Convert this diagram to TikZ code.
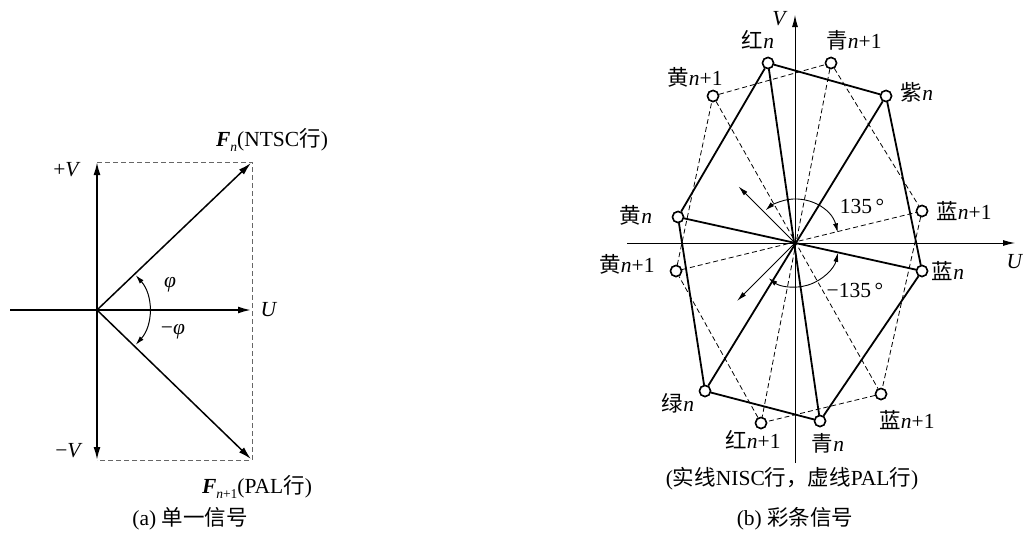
\documentclass[tikz,border=0pt]{standalone}
\usepackage{fontspec}
\setmainfont{Liberation Serif}
\newfontfamily\cjk{Noto Sans CJK SC}
\usetikzlibrary{arrows.meta}
\newcommand{\zh}[1]{{\cjk #1}}
\newcommand{\nn}{\textit{n}}
\newcommand{\mysub}[1]{\raisebox{-4.5pt}{\fontsize{13.5}{13.5}\selectfont #1}}
\tikzset{
  lbl/.style={inner sep=0pt, anchor=center},
  thickln/.style={line width=1.8pt, draw=black},
  thinln/.style={line width=0.7pt, draw=black},
  dashln/.style={line width=0.8pt, dash pattern=on 5pt off 3pt},
  grayd/.style={line width=0.9pt, draw=black!60, dash pattern=on 5pt off 3pt},
  bigtip/.style={-{Latex[length=13pt,width=7pt]}},
  smalltip/.style={-{Latex[length=10pt,width=5pt]}},
  dot/.style={circle, draw, fill=white, line width=1.5pt, inner sep=0pt, minimum size=11pt},
}
\begin{document}
\begin{tikzpicture}[x=1pt, y=-1pt, font=\fontsize{21.5}{25}\selectfont]
\useasboundingbox (0,0) rectangle (1023,533);
\fill[white] (0,0) rectangle (1023,533);

% ---------- (a) ----------
\begin{scope}[shift={(97,310)}, y=1pt]
  \coordinate (O1) at (0,0);
  \coordinate (Ul) at (-87,0);
  \coordinate (Ur) at (154,0);
  \coordinate (Vt) at (0,148);
  \coordinate (Vb) at (0,-150);
  \coordinate (Fn) at (154,147);
  \coordinate (Fp) at (154,-149);
  \coordinate (Rt) at (155,148);
  \coordinate (Rb) at (155,-150);
  \draw[grayd] (Vt) -- (Rt) -- (Rb) -- (Vb);
  \draw[thickln, bigtip] (Ul) -- (Ur);
  \draw[thickln, {Latex[length=13pt,width=7pt]}-{Latex[length=13pt,width=7pt]}] (Vb) -- (Vt);
  \draw[thickln, line width=1.5pt, bigtip] (O1) -- (Fn);
  \draw[thickln, line width=1.5pt, bigtip] (O1) -- (Fp);
  \draw[thinln, line width=1pt, {Latex[length=9pt,width=5pt]}-{Latex[length=9pt,width=5pt]}] (-42:52pt) arc[start angle=-42, end angle=42, radius=52pt];
  \node[lbl] (pV) at (-30,140) {+\textit{V}};
  \node[lbl] (mV) at (-28,-141) {−\textit{V}};
  \node[lbl] (U1) at (172,0) {\textit{U}};
  \node[lbl] (phi) at (73,25) {\textit{φ}};
  \node[lbl] (mphi) at (76,-22) {−\textit{φ}};
  \node[lbl] (FnL) at (175,170) {\textbf{\textit{F}}\mysub{\textit{n}}(NTSC\zh{行})};
  \node[lbl] (FpL) at (160,-177) {\textbf{\textit{F}}\mysub{\textit{n}+1}(PAL\zh{行})};
\end{scope}

% ---------- (b) ----------
\begin{scope}[shift={(795,243)}, y=1pt]
  \coordinate (O2) at (0,0);
  \coordinate (U2l) at (-168,0);
  \coordinate (U2r) at (220,0);
  \coordinate (V2b) at (0,-220);
  \coordinate (V2t) at (0,228);
  \draw[thinln, line width=0.9pt, -{Latex[length=12pt,width=6pt]}] (U2l) -- (U2r);
  \draw[thinln, line width=0.9pt, -{Latex[length=12pt,width=6pt]}] (V2b) -- (V2t);

  \node[dot] (Rn)  at (-27,180) {};
  \node[dot] (Cp)  at (36,180) {};
  \node[dot] (Ypa) at (-82,147) {};
  \node[dot] (Mn)  at (91,147) {};
  \node[dot] (Yn)  at (-117,26) {};
  \node[dot] (Bpa) at (127,32) {};
  \node[dot] (Ypb) at (-119,-28) {};
  \node[dot] (Bn)  at (127,-28) {};
  \node[dot] (Gn)  at (-90,-148) {};
  \node[dot] (Bpb) at (86,-151) {};
  \node[dot] (Rp)  at (-34,-180) {};
  \node[dot] (Cn)  at (25,-178) {};

  % dashed (PAL)
  \draw[dashln] (Ypa) -- (Cp) -- (Bpa) -- (Bpb) -- (Rp) -- (Ypb) -- (Ypa);
  \draw[dashln] (Ypa) -- (Bpb);
  \draw[dashln] (Cp) -- (Rp);
  \draw[dashln] (Ypb) -- (Bpa);
  % solid (NTSC)
  \draw[thickln] (Rn) -- (Mn) -- (Bn) -- (Cn) -- (Gn) -- (Yn) -- (Rn);
  \draw[thickln] (Rn) -- (Cn);
  \draw[thickln] (Yn) -- (Bn);
  \draw[thickln] (Mn) -- (Gn);

  % thin arrows and arcs
  \coordinate (A1) at (135:80pt);
  \coordinate (A2) at (-135:82pt);
  \draw[thinln, line width=0.9pt, smalltip] (O2) -- (A1);
  \draw[thinln, line width=0.9pt, smalltip] (O2) -- (A2);
  \draw[thinln, line width=0.9pt, {Latex[length=9pt,width=5pt]}-{Latex[length=9pt,width=5pt]}] (14:44pt) arc[start angle=14, end angle=132, radius=44pt];
  \draw[thinln, line width=0.9pt, {Latex[length=9pt,width=5pt]}-{Latex[length=9pt,width=5pt]}] (-13:44pt) arc[start angle=-13, end angle=-127, radius=44pt];

  % redraw circles on top
  \foreach \p in {Rn,Cp,Ypa,Mn,Yn,Bpa,Ypb,Bn,Gn,Bpb,Rp,Cn}{\node[dot] at (\p) {};}

  \node[lbl] (V2L) at (-15,224) {\textit{V}};
  \node[lbl] (U2L) at (220,-19) {\textit{U}};
  \node[lbl] (RnL) at (-37,203) {\zh{红}\nn};
  \node[lbl] (CpL) at (59,203) {\zh{青}\nn+1};
  \node[lbl] (YpaL) at (-100,166) {\zh{黄}\nn+1};
  \node[lbl] (MnL) at (122,151) {\zh{紫}\nn};
  \node[lbl] (YnL) at (-159,28) {\zh{黄}\nn};
  \node[lbl] (BpaL) at (169,32) {\zh{蓝}\nn+1};
  \node[lbl] (YpbL) at (-168,-21) {\zh{黄}\nn+1};
  \node[lbl] (BnL) at (153,-28) {\zh{蓝}\nn};
  \node[lbl] (a135) at (67,37) {135\,°};
  \node[lbl] (am135) at (60,-47) {−135\,°};
  \node[lbl] (GnL) at (-117,-160) {\zh{绿}\nn};
  \node[lbl] (BpbL) at (112,-177) {\zh{蓝}\nn+1};
  \node[lbl] (RpL) at (-42,-197) {\zh{红}\nn+1};
  \node[lbl] (CnL) at (33,-200) {\zh{青}\nn};
\end{scope}

\node[lbl] (note) at (792,479) {(\zh{实线}NISC\zh{行，虚线}PAL\zh{行})};
\node[lbl] (capa) at (190,519) {(a) \zh{单一信号}};
\node[lbl] (capb) at (795,519) {(b) \zh{彩条信号}};
\end{tikzpicture}
\end{document}
